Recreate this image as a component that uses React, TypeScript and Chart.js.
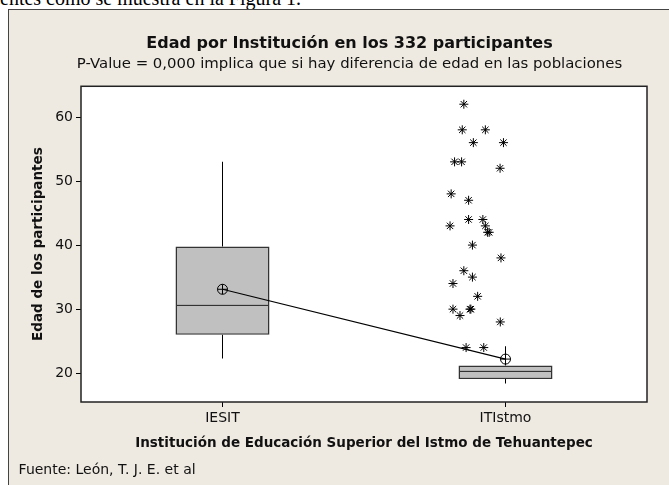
import React, { useEffect, useRef } from "react";
import { Chart, registerables } from "chart.js";

Chart.register(...registerables);

// ---- data ----
const categories = ["IESIT", "ITIstmo"];
const q1 = [26, 19.1];
const median = [30.5, 20.2];
const q3 = [39.8, 21.2];
const whiskerLow = [22.3, 18.4];
const whiskerHigh = [53, 24.2];
const means = [33.1, 22.2];
// ITIstmo outliers (age) and their jittered horizontal position around category index 1
const outlierAges = [62, 58, 58, 56, 56, 53, 53, 52, 48, 47, 44, 44, 43, 43, 42, 42, 40, 38, 36, 35, 34, 32, 30, 30, 30, 29, 28, 24, 24];
const outlierPos = [0.941, 0.934, 1.036, 0.983, 1.116, 0.9, 0.931, 1.101, 0.885, 0.962, 0.962, 1.025, 0.88, 1.036, 1.046, 1.053, 0.979, 1.105, 0.941, 0.979, 0.893, 1.002, 0.893, 0.968, 0.972, 0.924, 1.102, 0.951, 1.029];
const yTicks = [20, 30, 40, 50, 60];
const yMin = 15.5;
const yMax = 64.8;

const titleText = "Edad por Institución en los 332 participantes";
const subtitleText = "P-Value = 0,000 implica que si hay diferencia de edad en las poblaciones";
const xTitle = "Institución de Educación Superior del Istmo de Tehuantepec";
const yTitle = "Edad de los participantes";
const sourceText = "Fuente: León, T. J. E. et al";
const docText = "entes como se muestra en la Figura 1.";

const FONT = "'DejaVu Sans', sans-serif";
const INK = "#111";

const plotAreaPlugin = {
  id: "plotArea",
  beforeDraw(chart: any) {
    const { ctx, chartArea: a } = chart;
    ctx.save();
    ctx.fillStyle = "#ffffff";
    ctx.fillRect(a.left, a.top, a.right - a.left, a.bottom - a.top);
    ctx.restore();
  },
  afterDraw(chart: any) {
    const { ctx, chartArea: a } = chart;
    ctx.save();
    ctx.strokeStyle = "#222";
    ctx.lineWidth = 1.5;
    ctx.strokeRect(a.left, a.top, a.right - a.left, a.bottom - a.top);
    ctx.restore();
  },
};

export default function App() {
  const ref = useRef<HTMLCanvasElement | null>(null);

  useEffect(() => {
    if (!ref.current) return;
    Chart.defaults.font.family = FONT;
    const boxFill = "#C0C0C0";
    const boxLine = "#333333";
    const chart = new Chart(ref.current, {
      type: "bar",
      data: {
        labels: categories,
        datasets: [
          {
            type: "line",
            label: "mean",
            data: means,
            xAxisID: "x",
            yAxisID: "y",
            borderColor: "#000",
            borderWidth: 1.2,
            pointStyle: "circle",
            pointRadius: 5,
            pointBorderWidth: 1,
            pointBorderColor: "#000",
            pointBackgroundColor: "rgba(0,0,0,0)",
            tension: 0,
            order: 1,
          } as any,
          {
            type: "line",
            label: "meanCross",
            data: means,
            xAxisID: "x",
            yAxisID: "y",
            showLine: false,
            pointStyle: "cross",
            pointRadius: 5,
            pointBorderWidth: 1,
            pointBorderColor: "#000",
            order: 0,
          } as any,
          {
            type: "scatter",
            label: "outliers",
            data: outlierAges.map((v, i) => ({ x: outlierPos[i], y: v })),
            xAxisID: "x2",
            yAxisID: "y",
            pointStyle: "star",
            pointRadius: 4.5,
            pointBorderWidth: 1,
            pointBorderColor: "#000",
            order: 0,
          } as any,
          {
            type: "bar",
            label: "lowerBox",
            data: categories.map((_, i) => [q1[i], median[i]]),
            backgroundColor: boxFill,
            borderColor: boxLine,
            borderWidth: 1.5,
            borderSkipped: "top",
            barThickness: 94,
            grouped: false,
            inflateAmount: 0,
            order: 5,
          } as any,
          {
            type: "bar",
            label: "upperBox",
            data: categories.map((_, i) => [median[i], q3[i]]),
            backgroundColor: boxFill,
            borderColor: boxLine,
            borderWidth: 1.5,
            borderSkipped: false,
            barThickness: 94,
            grouped: false,
            inflateAmount: 0,
            order: 5,
          } as any,
          {
            type: "bar",
            label: "whiskerLow",
            data: categories.map((_, i) => [whiskerLow[i], q1[i]]),
            backgroundColor: "#000",
            borderWidth: 0,
            barThickness: 1,
            grouped: false,
            inflateAmount: 0,
            order: 6,
          } as any,
          {
            type: "bar",
            label: "whiskerHigh",
            data: categories.map((_, i) => [q3[i], whiskerHigh[i]]),
            backgroundColor: "#000",
            borderWidth: 0,
            barThickness: 1,
            grouped: false,
            inflateAmount: 0,
            order: 6,
          } as any,
        ],
      },
      options: {
        animation: false,
        responsive: false,
        devicePixelRatio: 1,
        layout: { padding: { left: 30, right: 0, top: 0, bottom: 0 } },
        plugins: {
          legend: { display: false },
          tooltip: { enabled: false },
          title: {
            display: true,
            text: titleText,
            color: INK,
            font: { family: FONT, size: 16, weight: "bold" },
            padding: { top: 34.4, bottom: 0 },
          },
          subtitle: {
            display: true,
            text: subtitleText,
            color: INK,
            font: { family: FONT, size: 14.9 },
            padding: { top: 1.6, bottom: 13.2 },
          },
        },
        scales: {
          x: {
            type: "category",
            labels: categories,
            offset: true,
            grid: {
              offset: false,
              drawOnChartArea: false,
              drawTicks: true,
              tickLength: 5,
              color: "#000",
            },
            border: { display: false },
            ticks: { color: INK, font: { family: FONT, size: 14 }, padding: 3 },
            title: {
              display: true,
              text: xTitle,
              color: INK,
              font: { family: FONT, size: 13.5, weight: "bold" },
              padding: { top: 0, bottom: 33.4 },
            },
            afterFit: (s: any) => {
              s.height = 83;
            },
          },
          x2: {
            type: "linear",
            display: false,
            min: -0.5,
            max: 1.5,
          },
          y: {
            type: "linear",
            position: "left",
            min: yMin,
            max: yMax,
            afterBuildTicks: (s: any) => {
              s.ticks = yTicks.map((v) => ({ value: v }));
            },
            grid: {
              drawOnChartArea: false,
              drawTicks: true,
              tickLength: 5,
              color: "#000",
            },
            border: { display: false },
            ticks: { color: INK, font: { family: FONT, size: 14 }, padding: 3 },
            title: {
              display: true,
              text: yTitle,
              color: INK,
              font: { family: FONT, size: 13.5, weight: "bold" },
              padding: { top: 0, bottom: 0 },
            },
            afterFit: (s: any) => {
              s.width = 51;
            },
          },
          yR: {
            type: "linear",
            position: "right",
            display: true,
            grid: { display: false, drawTicks: false },
            ticks: { display: false },
            border: { display: false },
            afterFit: (s: any) => {
              s.width = 22;
            },
          },
        },
      } as any,
      plugins: [plotAreaPlugin],
    });
    return () => chart.destroy();
  }, []);

  return (
    <div
      style={{
        position: "absolute",
        left: 0,
        top: 0,
        width: 669,
        height: 485,
        overflow: "hidden",
        background: "#ffffff",
      }}
    >
      <div
        style={{
          position: "absolute",
          left: 0,
          top: -12.5,
          fontFamily: "'Liberation Serif', serif",
          fontSize: 20,
          lineHeight: "20px",
          whiteSpace: "nowrap",
          color: "#000",
        }}
      >
        {docText}
      </div>
      <div
        style={{
          position: "absolute",
          left: 8,
          top: 9,
          width: 700,
          height: 500,
          background: "#EEEAE1",
          borderLeft: "1px solid #444",
          borderTop: "1px solid #444",
        }}
      />
      <canvas
        ref={ref}
        width={669}
        height={485}
        style={{ position: "absolute", left: 0, top: 0, width: 669, height: 485 }}
      />
      <div
        style={{
          position: "absolute",
          left: 18.6,
          top: 460.5,
          fontFamily: FONT,
          fontSize: 14,
          lineHeight: "17px",
          whiteSpace: "nowrap",
          color: INK,
        }}
      >
        {sourceText}
      </div>
    </div>
  );
}
